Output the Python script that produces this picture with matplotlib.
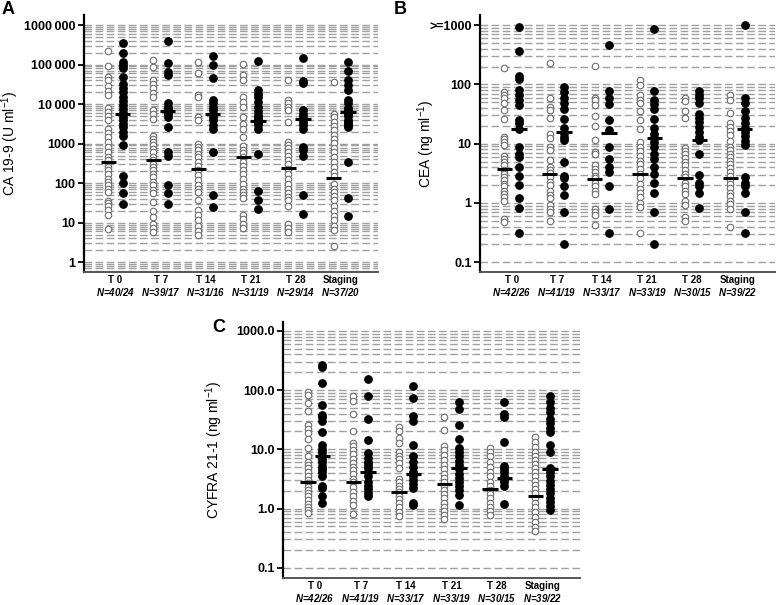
import matplotlib
matplotlib.use('Agg')
import matplotlib.pyplot as plt
import numpy as np

plt.rcParams['font.family'] = ['Liberation Sans', 'DejaVu Sans']
plt.rcParams['mathtext.fontset'] = 'custom'
plt.rcParams['mathtext.it'] = 'Liberation Sans:italic:bold'
plt.rcParams['mathtext.rm'] = 'Liberation Sans'

groups = ['T 0', 'T 7', 'T 14', 'T 21', 'T 28', 'Staging']
n_a = ['40/24', '39/17', '31/16', '31/19', '29/14', '37/20']
n_bc = ['42/26', '41/19', '33/17', '33/19', '30/15', '39/22']

# CA 19-9 (U/ml), open = first group, filled = second group
ca_open = [
    [220000, 90000, 50000, 40000, 28000, 22000, 17000, 8000, 6500, 5000, 4000, 2400, 1900, 1500, 1100, 830,
     620, 460, 390, 310, 260, 210, 170, 130, 105, 88, 72, 60, 36, 31, 27, 21, 16, 7],
    [130000, 88000, 42000, 33000, 25000, 19000, 15000, 7000, 5800, 4300, 1600, 1300, 1100, 910, 750, 620,
     460, 380, 310, 260, 210, 175, 140, 107, 88, 68, 56, 33, 20, 14, 9.4, 7.3, 5.8],
    [118000, 60000, 17000, 15000, 4800, 4000, 1000, 830, 680, 560, 460, 345, 280, 210, 158, 118, 88, 72,
     60, 38, 20.6, 16, 11.4, 8.5, 6.3, 5],
    [102000, 54000, 40000, 15000, 11400, 8500, 4600, 3200, 2300, 1500, 850, 700, 580, 460, 345, 270, 210,
     167, 128, 97, 72, 60, 49, 41, 16, 12.6, 9.4, 7.4],
    [41000, 12600, 10500, 8500, 7000, 3500, 1100, 910, 760, 620, 500, 380, 300, 235, 175, 128, 97, 72, 56,
     45, 37, 27, 9.4, 7.4, 5.8],
    [36000, 5800, 4600, 3500, 2800, 2200, 1700, 1350, 1050, 800, 620, 460, 345, 257, 191, 148, 97, 72, 60,
     47, 37, 27, 20, 15, 11.4, 8.5, 6.6, 2.6],
]
ca_fill = [
    [350000, 200000, 120000, 100000, 80000, 50000, 33000, 26000, 20000, 15000, 12000, 9500, 7700, 6000,
     4800, 3900, 3200, 2700, 2000, 1600, 900, 150, 100, 55, 30],
    [400000, 112000, 66000, 54000, 10500, 8500, 7500, 7000, 6000, 5800, 4800, 2600, 620, 500, 88, 56, 30],
    [165000, 98000, 45000, 12600, 10500, 8500, 7000, 5800, 4800, 3900, 2900, 2400, 620, 49, 25],
    [125000, 22600, 18000, 15000, 11400, 8500, 6800, 5200, 4700, 4200, 3900, 3600, 3300, 2900, 2400, 560,
     63, 38, 22],
    [148000, 39000, 35000, 7000, 5800, 4600, 3500, 2900, 2400, 830, 680, 500, 49, 17],
    [118000, 70000, 42000, 30000, 22600, 13000, 10500, 8200, 7500, 6300, 5500, 4900, 3900, 3500, 3100,
     2800, 2600, 345, 41, 15],
]
ca_med_open = [340, 390, 235, 450, 240, 135]
ca_med_fill = [5800, 6700, 5500, 3800, 4200, 6500]

# CEA (ng/ml)
cea_open = [
    [191, 74, 66, 58, 49, 37, 26, 13.2, 12, 10.6, 9.4, 6.3, 5.6, 4.9, 4.3, 3.6, 3.1, 2.7, 2.4, 2.1, 1.9,
     1.6, 1.4, 1.25, 1.1, 0.54, 0.48],
    [230, 60, 42, 37, 27, 14.8, 12.6, 8.7, 7.7, 5.4, 4.1, 3.6, 3.2, 2.7, 2.3, 2.0, 1.6, 1.35, 1.2, 0.91,
     0.8, 0.7, 0.49],
    [204, 60, 54, 45, 29, 20, 11.4, 7.3, 6.6, 4.3, 3.8, 3.3, 2.9, 2.6, 2.2, 1.9, 1.6, 1.4, 0.8, 0.7, 0.62,
     0.42],
    [117, 97, 66, 55, 49, 35, 25, 18, 10.7, 8.9, 7.5, 6.3, 5.2, 4.5, 3.8, 3.1, 2.6, 2.1, 1.7, 1.5, 1.25,
     1.0, 0.85, 0.31],
    [60, 53, 36, 27, 8.6, 7.5, 6.6, 5.8, 4.9, 4.3, 3.6, 3.1, 2.7, 2.2, 1.9, 1.6, 1.4, 1.1, 0.91, 0.59, 0.49],
    [66, 55, 33, 22, 19, 16.3, 13.8, 11, 8.7, 7.7, 6.8, 5.9, 5.2, 4.6, 3.9, 3.3, 2.8, 2.4, 2.1, 1.8, 1.5,
     1.3, 1.1, 0.97, 0.8, 0.4],
]
cea_fill = [
    [940, 370, 138, 123, 80, 66, 54, 45, 25, 22, 18, 8.9, 6.6, 5.9, 4.1, 2.9, 2.0, 1.2, 0.83, 0.31],
    [89, 74, 60, 48, 39, 26, 18.6, 15, 13, 11.4, 4.9, 2.9, 2.6, 1.9, 1.35, 0.7, 0.2],
    [457, 78, 58, 46, 25.5, 17, 8.7, 5.6, 4.1, 3.3, 1.9, 0.8, 0.31],
    [860, 78, 54, 46, 39, 26, 18.6, 14.8, 12.6, 10.7, 8.9, 6.6, 5.6, 4.0, 3.1, 2.2, 1.48, 0.7, 0.2],
    [78, 66, 58, 48, 32, 27, 23, 19, 15.8, 13, 11.4, 6.7, 3.0, 2.2, 1.9, 1.5, 0.83],
    [1000, 58, 48, 35, 27, 22, 18.6, 15.8, 13.3, 11.1, 9.4, 2.7, 2.2, 1.9, 1.5, 0.7, 0.31],
]
cea_med_open = [3.7, 3.1, 2.5, 3.1, 2.6, 2.6]
cea_med_fill = [17.5, 15.5, 15, 12.5, 11.5, 17.5]

# CYFRA 21-1 (ng/ml)
cy_open = [
    [91, 81, 61, 44, 26, 22, 18.6, 15, 10.4, 7.6, 6.2, 5.5, 4.8, 4.2, 3.6, 3.0, 2.7, 2.3, 2.05, 1.8, 1.6,
     1.4, 1.2, 1.07, 0.94, 0.83],
    [78, 66, 39, 20, 12.6, 11.5, 9.7, 8.3, 6.9, 5.8, 5.1, 4.5, 3.8, 3.2, 2.8, 2.3, 1.9, 1.6, 1.35, 1.15, 0.8],
    [24, 20, 15.8, 12.6, 8.9, 7.8, 6.9, 5.8, 4.8, 3.2, 2.8, 2.4, 2.1, 1.9, 1.65, 1.45, 1.26, 1.07, 0.89, 0.76],
    [35.5, 21, 11.5, 9.7, 8, 6.6, 5.5, 4.7, 3.9, 3.3, 2.8, 2.4, 2.05, 1.74, 1.5, 1.26, 1.07, 0.91, 0.78, 0.66],
    [10.4, 8.9, 7.6, 6.2, 5.1, 4.2, 3.5, 2.8, 2.4, 2.05, 1.74, 1.5, 1.26, 1.07, 0.91, 0.78],
    [16.3, 13.4, 11, 9.1, 7.8, 6.6, 5.6, 4.8, 4.1, 3.5, 2.9, 2.5, 2.1, 1.8, 1.5, 1.26, 1.07, 0.89, 0.72, 0.6,
     0.49, 0.42],
]
cy_fill = [
    [270, 242, 131, 55, 38, 35, 29.5, 19.6, 11.8, 10.2, 8.9, 7.8, 6.9, 6.0, 5.3, 4.7, 4.1, 3.6, 2.4, 2.2,
     1.6, 1.26],
    [155, 78, 32.5, 14.3, 8.6, 7.2, 6.2, 5.5, 4.8, 4.1, 3.5, 2.8, 2.4, 2.1, 1.8, 1.6],
    [115, 74, 37, 29.5, 11.8, 7.6, 6.2, 5.1, 4.2, 3.6, 3.0, 2.6, 2.2, 1.26, 1.15],
    [62, 48, 26, 15, 10.4, 8.9, 7.6, 6.3, 5.5, 4.7, 3.9, 3.3, 2.8, 2.4, 2.05, 1.7, 1.15],
    [62, 39, 35.5, 13.2, 5.3, 4.7, 4.1, 3.6, 3.1, 2.8, 2.4, 1.17],
    [78, 62, 50, 42, 33, 27.5, 22.5, 19.3, 12, 9.1, 4.8, 4.1, 3.5, 2.9, 2.5, 2.1, 1.8, 1.5, 1.3, 1.12, 0.94],
]
cy_med_open = [2.8, 2.8, 1.9, 2.6, 2.1, 1.6]
cy_med_fill = [7.6, 4.2, 3.9, 4.9, 3.3, 4.7]

off = 0.16


def panel(ax, op, fi, mo, mf, ylim, grid_lo, grid_hi, ticks, ticklabels, ylabel, lab_x, nlab):
    ax.set_yscale('log')
    ax.set_ylim(*ylim)
    ax.set_xlim(-0.7, 5.83)
    # dashed grid at every 1..9 x 10^k
    for e in range(-2, 7):
        for k in range(1, 10):
            v = k * 10.0 ** e
            if grid_lo - 1e-9 <= v <= grid_hi + 1e-9:
                ax.axhline(v, color='#a0a0a0', lw=1.0, dashes=(5.5, 2.5), zorder=0)
    for i in range(len(groups)):
        ax.scatter(np.full(len(op[i]), i - off), op[i], s=22, facecolor='white',
                   edgecolor='#6e6e6e', linewidth=0.8, zorder=3)
        ax.scatter(np.full(len(fi[i]), i + off), fi[i], s=28, color='black', zorder=3)
        ax.plot([i - off - 0.17, i - off + 0.17], [mo[i], mo[i]], color='black', lw=2.2,
                solid_capstyle='butt', zorder=4)
        ax.plot([i + off - 0.17, i + off + 0.17], [mf[i], mf[i]], color='black', lw=2.2,
                solid_capstyle='butt', zorder=4)
    ax.set_yticks(ticks)
    ax.set_yticklabels(ticklabels, fontsize=9, fontweight='bold')
    ax.minorticks_off()
    ax.tick_params(axis='y', length=4, width=1.3, pad=2)
    ax.set_xticks(range(len(groups)))
    ax.set_xticklabels(groups, fontsize=7, fontweight='bold')
    ax.tick_params(axis='x', length=0, pad=2)
    for i, n in enumerate(nlab):
        ax.text(i, -0.078, r'$\mathit{N}$=' + n, transform=ax.get_xaxis_transform(),
                ha='center', va='center', fontsize=7, fontweight='bold', style='italic')
    ax.set_ylabel(ylabel, fontsize=10)
    ax.yaxis.set_label_coords(lab_x, 0.5)
    for s in ['top', 'right']:
        ax.spines[s].set_visible(False)
    ax.spines['left'].set_linewidth(1.6)
    ax.spines['bottom'].set_linewidth(1.4)
    ax.spines['bottom'].set_color('#555555')


fig = plt.figure(figsize=(7.78, 6.05), dpi=100)

ax_a = fig.add_axes([0.108, 0.550, 0.378, 0.425])
panel(ax_a, ca_open, ca_fill, ca_med_open, ca_med_fill, (0.558, 1.79e6), 0.6, 1e6,
      [1, 10, 100, 1000, 10000, 100000, 1000000],
      ['1', '10', '100', '1000', '10\u2009000', '100\u2009000', '1000\u2009000'],
      'CA 19-9 (U ml$^{-1}$)', -0.214, n_a)

ax_b = fig.add_axes([0.617, 0.550, 0.379, 0.425])
panel(ax_b, cea_open, cea_fill, cea_med_open, cea_med_fill, (0.0678, 1476), 0.1, 1000,
      [0.1, 1, 10, 100, 1000], ['0.1', '1', '10', '100', '>=1000'],
      'CEA (ng ml$^{-1}$)', -0.146, n_bc)

ax_c = fig.add_axes([0.364, 0.0446, 0.382, 0.4234])
panel(ax_c, cy_open, cy_fill, cy_med_open, cy_med_fill, (0.067, 1419), 0.1, 1000,
      [0.1, 1, 10, 100, 1000], ['0.1', '1.0', '10.0', '100.0', '1000.0'],
      'CYFRA 21-1 (ng ml$^{-1}$)', -0.195, n_bc)

fig.text(8 / 778, 1 - 9 / 605, 'A', fontsize=13, fontweight='bold', ha='center', va='center')
fig.text(400 / 778, 1 - 9 / 605, 'B', fontsize=13, fontweight='bold', ha='center', va='center')
fig.text(219 / 778, 1 - 328 / 605, 'C', fontsize=13, fontweight='bold', ha='center', va='center')

plt.savefig('out.png', dpi=100)
plt.close()
